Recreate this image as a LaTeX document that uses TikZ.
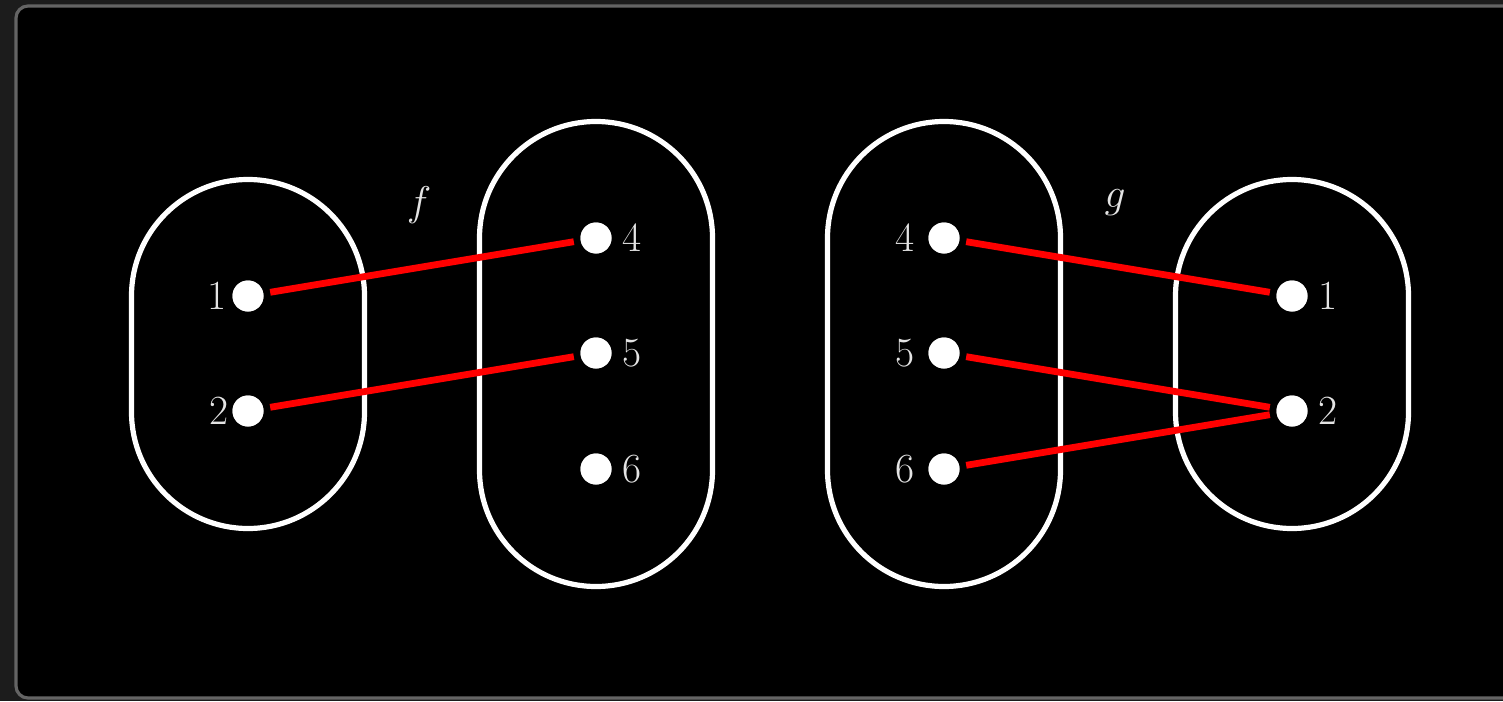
\documentclass[tikz,border=0pt]{standalone}
\definecolor{pagebg}{RGB}{28,28,28}
\definecolor{panelrim}{RGB}{100,100,100}
\definecolor{labelgray}{RGB}{228,228,228}
\definecolor{maplink}{RGB}{255,0,0}
\tikzset{
  setbox/.style={draw=white, line width=2.6pt, rectangle, rounded corners=58.25pt,
    minimum width=116.5pt, inner sep=0pt, outer sep=0pt},
  shortset/.style={setbox, minimum height=174.5pt},
  tallset/.style={setbox, minimum height=232.5pt},
  elem/.style={circle, fill=white, minimum size=15.5pt, inner sep=0pt, outer sep=0pt},
  numlabel/.style={text=labelgray, font=\huge, inner sep=0pt},
  elemL/.style 2 args={elem, label={[numlabel, label distance=#2]left:#1}},
  elemR/.style={elem, label={[numlabel, label distance=5.5pt]right:#1}},
  maptag/.style={text=labelgray, font=\huge, inner sep=0pt},
  link/.style={draw=maplink, line width=3.4pt, shorten <=3.5pt, shorten >=3.5pt}
}
\begin{document}
\begin{tikzpicture}[x=0.5pt, y=-0.5pt]
  \useasboundingbox (0,0) rectangle (1503,701);
  \clip (0,0) rectangle (1503,701);
  % page and dark panel
  \fill[pagebg] (0,0) rectangle (1503,701);
  \draw[panelrim, fill=black, line width=1.6pt, rounded corners=6pt]
    (16,6) rectangle (1540,698);

  % the four sets
  \node[shortset] (A) at (248,354) {};
  \node[tallset]  (B) at (596,354) {};
  \node[tallset]  (C) at (944,354) {};
  \node[shortset] (D) at (1292,354) {};

  % elements
  \node[elemL={1}{3pt}] (a1) at (248,296) {};
  \node[elemL={2}{2pt}] (a2) at (248,411) {};
  \node[elemR=4] (b4) at (596,238) {};
  \node[elemR=5] (b5) at (596,353) {};
  \node[elemR=6] (b6) at (596,469) {};
  \node[elemL={4}{7pt}] (c4) at (944,238) {};
  \node[elemL={5}{7pt}] (c5) at (944,353) {};
  \node[elemL={6}{7pt}] (c6) at (944,469) {};
  \node[elemR=1] (d1) at (1292,296) {};
  \node[elemR=2] (d2) at (1292,411) {};

  % map names
  \node[maptag] (fname) at (419,205) {$f$};
  \node[maptag] (gname) at (1115,203) {$g$};

  % map f
  \draw[link] (a1) -- (b4);
  \draw[link] (a2) -- (b5);
  % map g
  \draw[link] (c4) -- (d1);
  \draw[link] (c5) -- (d2);
  \draw[link] (c6) -- (d2);

  % redraw dots above the links
  \foreach \n in {a1,a2,b4,b5,b6,c4,c5,c6,d1,d2}
    \fill[white] (\n) circle (7.75pt);
\end{tikzpicture}
\end{document}
